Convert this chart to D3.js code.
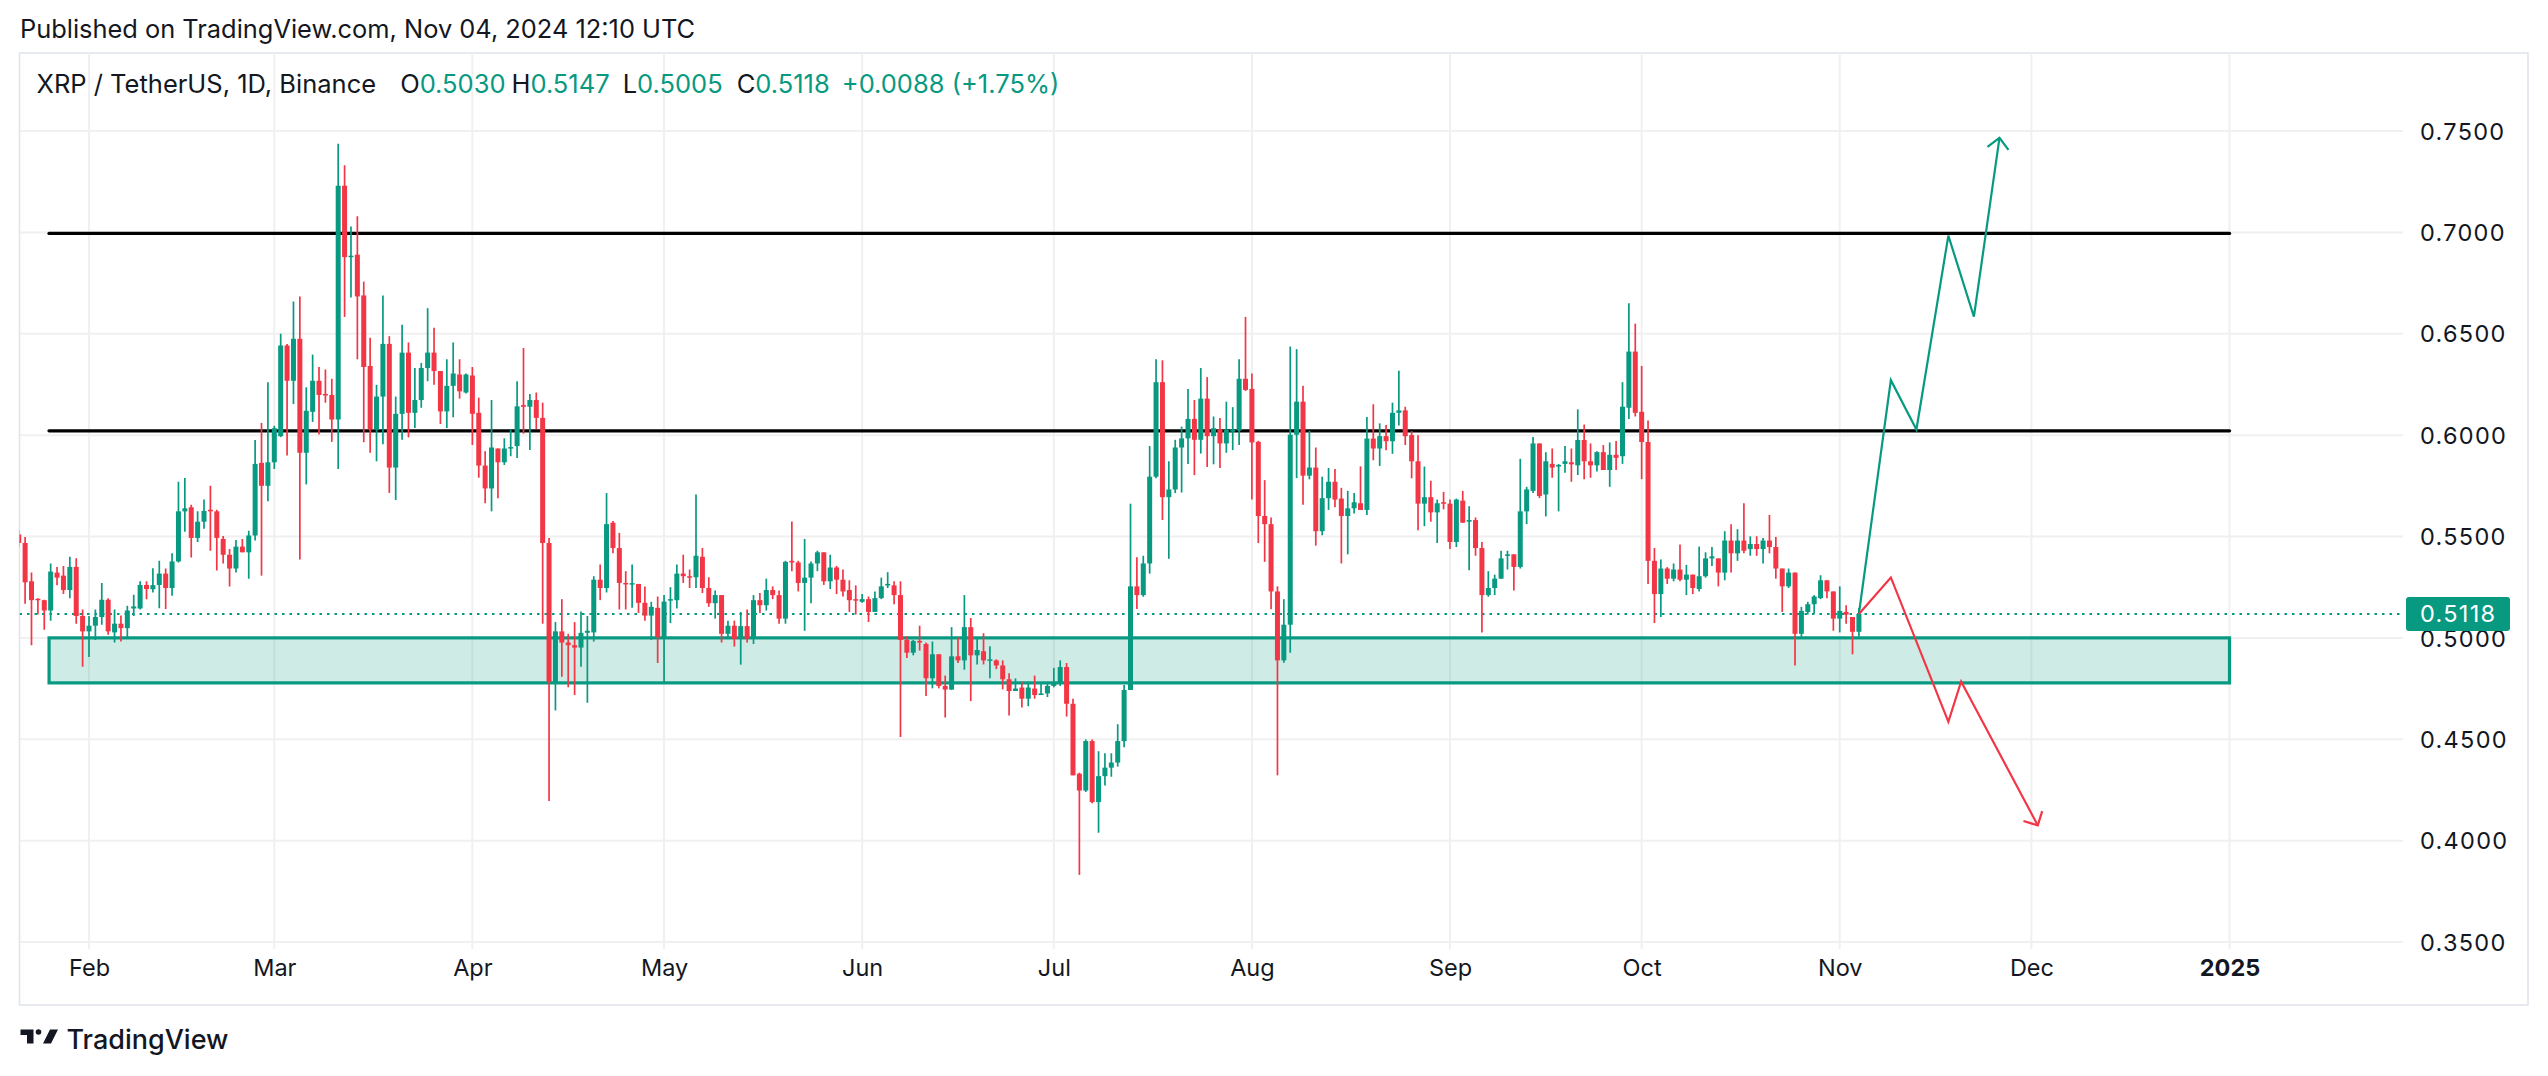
<!DOCTYPE html>
<html><head><meta charset="utf-8">
<script src="https://cdn.jsdelivr.net/npm/d3@7"></script>
<style>
html,body{margin:0;padding:0;background:#fff;}
svg{display:block;}
text{font-family:Inter, Roboto, "Noto Sans", sans-serif;}
</style></head><body>
<svg id="chart" width="2548" height="1076"></svg>
<script>
// ---------------- DATA ----------------
const firstDay = "2024-01-21";
const open = [
0.5510,0.5468,0.5279,0.5193,0.5186,0.5135,0.5322,0.5307,0.5236,0.5350,0.5108,
0.5032,0.5060,0.5103,0.5188,0.5027,0.5070,0.5048,0.5145,0.5145,0.5261,0.5240,0.5261,0.5317,0.5246,0.5377,0.5624,0.5644,0.5493,0.5573,0.5632,0.5624,0.5488,0.5410,0.5342,0.5450,0.5422,0.5505,0.5863,0.5750,
0.5866,0.5995,0.6442,0.6268,0.6475,0.5913,0.6115,0.6268,0.6203,0.6198,0.6077,0.7230,0.6878,0.6890,0.6689,0.6341,0.6027,0.6190,0.6450,0.5840,0.6105,0.6407,0.6110,0.6173,0.6331,0.6407,0.6316,0.6117,0.6243,0.6299,0.6210,
0.6294,0.6110,0.5850,0.5737,0.5934,0.5866,0.5934,0.5946,0.6148,0.6140,0.6173,0.6085,0.5468,0.4783,0.5032,0.4977,0.4964,0.4952,0.5025,0.5027,0.5287,0.5246,0.5568,0.5443,0.5271,0.5266,0.5266,0.5173,0.5110,0.5148,
0.5003,0.5186,0.5186,0.5317,0.5304,0.5299,0.5400,0.5246,0.5171,0.5211,0.5020,0.5060,0.4995,0.5058,0.4995,0.5186,0.5161,0.5236,0.5211,0.5095,0.5380,0.5372,0.5271,0.5297,0.5367,0.5422,0.5279,0.5347,0.5287,0.5236,0.5191,
0.5178,0.5191,0.5128,0.5196,0.5259,0.5259,0.5211,0.4990,0.4927,0.4985,0.4970,0.4801,0.4919,0.4763,0.4745,0.4909,0.4889,0.5053,0.4914,0.4934,0.4889,0.4889,0.4864,0.4796,0.4738,0.4755,0.4700,0.4750,0.4718,0.4726,
0.4763,0.4780,0.4856,0.4675,0.4330,0.4247,0.4491,0.4190,0.4318,0.4360,0.4385,0.4491,0.4743,0.5254,0.5211,0.5367,0.5795,0.6261,0.5694,0.5732,0.5939,0.5984,0.6080,0.5977,0.6180,0.5995,0.6029,0.5959,0.6017,0.6022,0.6278,
0.6228,0.5967,0.5601,0.5561,0.5229,0.4889,0.5065,0.6002,0.6165,0.5800,0.5840,0.5526,0.5689,0.5770,0.5687,0.5601,0.5639,0.5664,0.5631,0.5983,0.5934,0.5995,0.5970,0.6110,0.6122,0.6000,0.5871,0.5662,0.5694,0.5619,0.5669,
0.5662,0.5473,0.5677,0.5573,0.5581,0.5443,0.5211,0.5246,0.5292,0.5405,0.5412,0.5350,0.5624,0.5725,0.5959,0.5707,0.5858,0.5845,0.5858,0.5866,0.5851,0.5976,0.5871,0.5851,0.5916,0.5828,0.5903,0.5896,0.6135,0.6412,
0.6115,0.5966,0.5380,0.5216,0.5342,0.5292,0.5337,0.5287,0.5312,0.5241,0.5304,0.5392,0.5392,0.5322,0.5480,0.5417,0.5480,0.5438,0.5463,0.5438,0.5480,0.5448,0.5342,0.5254,0.5322,0.5020,0.5128,0.5166,0.5196,0.5284,0.5229,
0.5095,0.5128,0.5103,0.5030];
const high = [
0.5531,0.5498,0.5322,0.5196,0.5188,0.5367,0.5350,0.5355,0.5400,0.5393,0.5140,
0.5108,0.5140,0.5271,0.5196,0.5140,0.5110,0.5158,0.5213,0.5279,0.5279,0.5344,0.5380,0.5342,0.5417,0.5770,0.5788,0.5657,0.5624,0.5682,0.5750,0.5632,0.5503,0.5438,0.5483,0.5488,0.5528,0.5976,0.6060,0.6261,
0.6046,0.6500,0.6450,0.6659,0.6684,0.6236,0.6397,0.6336,0.6324,0.6278,0.7437,0.7331,0.7029,0.7079,0.6757,0.6480,0.6248,0.6689,0.6488,0.6190,0.6545,0.6457,0.6331,0.6356,0.6626,0.6530,0.6316,0.6374,0.6457,0.6374,0.6304,
0.6336,0.6185,0.5921,0.6173,0.5934,0.5984,0.6027,0.6266,0.6430,0.6203,0.6210,0.6160,0.5493,0.5078,0.5191,0.5020,0.5078,0.5130,0.5108,0.5304,0.5362,0.5714,0.5576,0.5518,0.5329,0.5362,0.5266,0.5254,0.5178,0.5204,
0.5211,0.5250,0.5362,0.5410,0.5337,0.5707,0.5443,0.5299,0.5234,0.5211,0.5085,0.5085,0.5128,0.5140,0.5211,0.5221,0.5292,0.5254,0.5234,0.5380,0.5574,0.5380,0.5488,0.5377,0.5430,0.5422,0.5410,0.5355,0.5337,0.5284,0.5259,
0.5216,0.5204,0.5229,0.5297,0.5324,0.5279,0.5279,0.5008,0.4990,0.5060,0.4977,0.4982,0.4919,0.4814,0.5053,0.5003,0.5211,0.5098,0.4998,0.5023,0.4959,0.4894,0.4889,0.4826,0.4800,0.4783,0.4776,0.4814,0.4776,0.4776,
0.4852,0.4889,0.4876,0.4700,0.4335,0.4499,0.4499,0.4441,0.4431,0.4431,0.4574,0.4768,0.5662,0.5398,0.5405,0.5946,0.6374,0.6369,0.5871,0.5977,0.6042,0.6228,0.6173,0.6331,0.6286,0.6092,0.6085,0.6165,0.6138,0.6374,0.6583,
0.6304,0.5972,0.5778,0.5594,0.5254,0.5191,0.6437,0.6424,0.6243,0.6022,0.5939,0.5795,0.5838,0.5833,0.5740,0.5725,0.5715,0.5846,0.6089,0.6152,0.6058,0.6050,0.6160,0.6318,0.6140,0.6020,0.6000,0.5845,0.5775,0.5682,0.5720,
0.5682,0.5687,0.5725,0.5649,0.5594,0.5473,0.5329,0.5312,0.5430,0.5430,0.5412,0.5883,0.5745,0.5991,0.5959,0.5916,0.5934,0.5858,0.5946,0.5934,0.6127,0.6052,0.5959,0.5921,0.5951,0.5964,0.5971,0.6261,0.6651,0.6550,
0.6341,0.6072,0.5443,0.5387,0.5349,0.5367,0.5460,0.5360,0.5312,0.5450,0.5422,0.5448,0.5392,0.5526,0.5561,0.5536,0.5664,0.5501,0.5501,0.5493,0.5606,0.5498,0.5342,0.5342,0.5322,0.5153,0.5178,0.5211,0.5309,0.5284,0.5229,
0.5254,0.5161,0.5103,0.5147];
const low = [
0.5450,0.5168,0.4964,0.5115,0.5040,0.5085,0.5260,0.5216,0.5196,0.5070,0.4858,
0.4906,0.4990,0.5065,0.5015,0.4977,0.4982,0.5003,0.5108,0.5140,0.5191,0.5224,0.5146,0.5143,0.5208,0.5372,0.5523,0.5397,0.5473,0.5538,0.5430,0.5332,0.5367,0.5254,0.5322,0.5422,0.5292,0.5480,0.5307,0.5674,
0.5833,0.5990,0.5900,0.6153,0.5387,0.5757,0.6065,0.6003,0.6160,0.5967,0.5833,0.6583,0.6679,0.6374,0.5965,0.5913,0.5871,0.5955,0.5715,0.5680,0.5977,0.5989,0.6035,0.6135,0.6266,0.6248,0.6055,0.6035,0.6088,0.6180,0.6205,
0.5951,0.5790,0.5664,0.5624,0.5689,0.5853,0.5896,0.5887,0.6007,0.5927,0.6030,0.5070,0.4196,0.4642,0.4808,0.4756,0.4718,0.4858,0.4680,0.4982,0.5186,0.5224,0.5417,0.5140,0.5140,0.5148,0.5123,0.5085,0.4990,0.4876,
0.4780,0.5073,0.5145,0.5271,0.5246,0.5246,0.5221,0.5153,0.5095,0.4977,0.4995,0.4957,0.4868,0.4977,0.4970,0.5123,0.5135,0.5191,0.5070,0.5070,0.5329,0.5229,0.5035,0.5171,0.5329,0.5261,0.5241,0.5216,0.5204,0.5128,0.5115,
0.5173,0.5078,0.5128,0.5191,0.5246,0.5166,0.4511,0.4901,0.4914,0.4937,0.4713,0.4751,0.4751,0.4607,0.4743,0.4876,0.4843,0.4688,0.4869,0.4869,0.4801,0.4846,0.4746,0.4617,0.4738,0.4657,0.4663,0.4700,0.4718,0.4708,
0.4756,0.4763,0.4612,0.4322,0.3831,0.4240,0.4184,0.4039,0.4272,0.4315,0.4365,0.4460,0.4743,0.5143,0.5203,0.5317,0.5787,0.5581,0.5390,0.5714,0.5717,0.5858,0.5803,0.5909,0.5843,0.5856,0.5838,0.5913,0.5926,0.5951,0.6218,
0.5682,0.5468,0.5375,0.5141,0.4322,0.4877,0.4927,0.5788,0.5657,0.5782,0.5455,0.5506,0.5631,0.5644,0.5367,0.5412,0.5614,0.5631,0.5606,0.5876,0.5848,0.5926,0.5908,0.6047,0.5951,0.5787,0.5531,0.5551,0.5573,0.5468,0.5634,
0.5438,0.5448,0.5568,0.5334,0.5405,0.5027,0.5203,0.5211,0.5292,0.5337,0.5234,0.5342,0.5561,0.5715,0.5690,0.5599,0.5790,0.5624,0.5815,0.5770,0.5803,0.5782,0.5790,0.5820,0.5828,0.5745,0.5828,0.5858,0.6080,0.6092,
0.5783,0.5266,0.5073,0.5103,0.5266,0.5279,0.5279,0.5211,0.5216,0.5229,0.5297,0.5354,0.5254,0.5284,0.5322,0.5380,0.5417,0.5405,0.5405,0.5367,0.5417,0.5292,0.5128,0.5246,0.4864,0.4995,0.5115,0.5120,0.5191,0.5196,0.5035,
0.5027,0.5070,0.4919,0.5005];
const close = [
0.5468,0.5274,0.5186,0.5188,0.5135,0.5327,0.5297,0.5236,0.5350,0.5108,0.5032,
0.5060,0.5103,0.5188,0.5032,0.5070,0.5048,0.5135,0.5155,0.5261,0.5241,0.5260,0.5317,0.5246,0.5377,0.5624,0.5639,0.5493,0.5573,0.5626,0.5624,0.5493,0.5410,0.5342,0.5450,0.5422,0.5505,0.5858,0.5750,0.5866,
0.6034,0.6442,0.6268,0.6475,0.5913,0.6120,0.6268,0.6198,0.6198,0.6077,0.7230,0.6878,0.6885,0.6684,0.6336,0.6027,0.6190,0.6450,0.5840,0.6105,0.6407,0.6110,0.6173,0.6331,0.6407,0.6316,0.6117,0.6243,0.6304,0.6216,0.6299,
0.6105,0.5850,0.5737,0.5939,0.5866,0.5934,0.5941,0.6142,0.6140,0.6173,0.6085,0.5468,0.4783,0.5032,0.4977,0.4964,0.4952,0.5025,0.5035,0.5287,0.5246,0.5561,0.5443,0.5271,0.5266,0.5270,0.5173,0.5110,0.5153,0.5003,
0.5179,0.5191,0.5317,0.5304,0.5299,0.5405,0.5246,0.5171,0.5211,0.5020,0.5060,0.4995,0.5058,0.4995,0.5186,0.5161,0.5236,0.5211,0.5095,0.5375,0.5372,0.5271,0.5297,0.5367,0.5422,0.5279,0.5347,0.5287,0.5229,0.5186,0.5186,
0.5191,0.5128,0.5196,0.5254,0.5266,0.5211,0.4990,0.4927,0.4985,0.4977,0.4801,0.4919,0.4763,0.4745,0.4909,0.4889,0.5053,0.4914,0.4940,0.4889,0.4894,0.4864,0.4796,0.4738,0.4750,0.4700,0.4755,0.4718,0.4726,0.4763,
0.4780,0.4856,0.4675,0.4322,0.4247,0.4491,0.4190,0.4318,0.4360,0.4385,0.4491,0.4743,0.5254,0.5211,0.5367,0.5795,0.6261,0.5694,0.5732,0.5939,0.5984,0.6080,0.5977,0.6180,0.5995,0.6034,0.5959,0.6027,0.6027,0.6278,0.6223,
0.5964,0.5601,0.5561,0.5229,0.4889,0.5065,0.6002,0.6165,0.5800,0.5840,0.5526,0.5689,0.5770,0.5682,0.5601,0.5639,0.5669,0.5631,0.5983,0.5934,0.5995,0.5970,0.6110,0.6122,0.5995,0.5871,0.5662,0.5694,0.5619,0.5664,0.5662,
0.5473,0.5682,0.5568,0.5581,0.5443,0.5211,0.5246,0.5292,0.5392,0.5412,0.5350,0.5624,0.5732,0.5959,0.5700,0.5871,0.5840,0.5853,0.5871,0.5856,0.5976,0.5871,0.5851,0.5916,0.5828,0.5903,0.5888,0.6140,0.6412,0.6110,
0.5966,0.5380,0.5216,0.5342,0.5292,0.5337,0.5287,0.5312,0.5246,0.5304,0.5392,0.5402,0.5322,0.5480,0.5417,0.5480,0.5430,0.5463,0.5438,0.5480,0.5448,0.5342,0.5254,0.5322,0.5020,0.5133,0.5166,0.5204,0.5284,0.5229,0.5095,
0.5133,0.5115,0.5030,0.5118];

const priceTicks = [0.35,0.40,0.45,0.50,0.55,0.60,0.65,0.70,0.75];
const monthTicks = ["2024-02-01","2024-03-01","2024-04-01","2024-05-01","2024-06-01","2024-07-01","2024-08-01","2024-09-01","2024-10-01","2024-11-01","2024-12-01","2025-01-01"];
const monthLabels = ["Feb","Mar","Apr","May","Jun","Jul","Aug","Sep","Oct","Nov","Dec","2025"];

const levelPrices = [0.6995, 0.6021];
const levelStart = "2024-01-25T18:00:00Z";
const levelEnd = "2025-01-01";
const zoneTop = 0.5000, zoneBottom = 0.4778;

const bullDates = ["2024-11-04","2024-11-09","2024-11-13","2024-11-18","2024-11-22","2024-11-26"];
const bullPrices = [0.5118,0.6271,0.6028,0.6984,0.6584,0.7466];
const bearDates = ["2024-11-04","2024-11-09","2024-11-18","2024-11-20","2024-12-02"];
const bearPrices = [0.5118,0.5298,0.4586,0.4785,0.4075];

const headerText = "Published on TradingView.com, Nov 04, 2024 12:10 UTC";
const symbolText = "XRP / TetherUS, 1D, Binance";
const legendKeys = ["O","H","L","C"];
const legendVals = ["0.5030","0.5147","0.5005","0.5118"];
const legendChange = "+0.0088 (+1.75%)";
const lastPrice = 0.5118;

// ---------------- LAYOUT ----------------
const UP = "#089981", DOWN = "#F23645", INK = "#131722";
const P = {left:19.5, right:2403, top:53, bottom:949};
const svg = d3.select("#chart");

const x = d3.scaleUtc().domain([new Date("2024-02-01"), new Date("2025-01-01")]).range([89, 2229.5]);
const y = d3.scaleLinear().domain([0.35, 0.75]).range([942, 131]);

const start = new Date(firstDay + "T00:00:00Z");
const days = d3.utcDay.range(start, d3.utcDay.offset(start, open.length));
const candles = days.map((d,i)=>({d, o:open[i], h:high[i], l:low[i], c:close[i]}));

// frame
svg.append("rect").attr("x",P.left).attr("y",P.top).attr("width",2528-P.left).attr("height",1005-P.top)
  .attr("fill","none").attr("stroke","#e0e3eb").attr("stroke-width",1.5);

// clip
svg.append("defs").append("clipPath").attr("id","plot").append("rect")
  .attr("x",P.left).attr("y",P.top).attr("width",P.right-P.left).attr("height",P.bottom-P.top);

// grid
const grid = svg.append("g").attr("clip-path","url(#plot)");
grid.selectAll("line.h").data(priceTicks).join("line")
  .attr("x1",P.left).attr("x2",P.right).attr("y1",d=>y(d)).attr("y2",d=>y(d))
  .attr("stroke","#f0f0f0").attr("stroke-width",2);
grid.selectAll("line.v").data(monthTicks).join("line")
  .attr("x1",d=>x(new Date(d))).attr("x2",d=>x(new Date(d))).attr("y1",P.top).attr("y2",P.bottom)
  .attr("stroke","#f0f0f0").attr("stroke-width",2);

const plot = svg.append("g").attr("clip-path","url(#plot)");

// zone
plot.append("rect")
  .attr("x", x(new Date(levelStart))).attr("y", y(zoneTop))
  .attr("width", x(new Date(levelEnd)) - x(new Date(levelStart)))
  .attr("height", y(zoneBottom) - y(zoneTop))
  .attr("fill","rgba(8,153,129,0.2)").attr("stroke",UP).attr("stroke-width",3.2);

// level lines
plot.selectAll("line.lvl").data(levelPrices).join("line")
  .attr("x1", x(new Date(levelStart))).attr("x2", x(new Date(levelEnd)))
  .attr("y1", d=>y(d)).attr("y2", d=>y(d))
  .attr("stroke","#000").attr("stroke-width",3.4).attr("stroke-linecap","round");

// last price dotted line
plot.append("line").attr("x1",P.left).attr("x2",P.right).attr("y1",y(lastPrice)).attr("y2",y(lastPrice))
  .attr("stroke",UP).attr("stroke-width",2).attr("stroke-dasharray","2.5,5");

// candles
const bw = 5;
const cg = plot.append("g");
cg.selectAll("line.w").data(candles).join("line")
  .attr("x1",d=>x(d.d)).attr("x2",d=>x(d.d)).attr("y1",d=>y(d.h)).attr("y2",d=>y(d.l))
  .attr("stroke",d=>d.c>=d.o?UP:DOWN).attr("stroke-width",1.7);
cg.selectAll("rect.b").data(candles).join("rect")
  .attr("x",d=>x(d.d)-bw/2).attr("width",bw)
  .attr("y",d=>y(Math.max(d.o,d.c)))
  .attr("height",d=>Math.max(1.5, Math.abs(y(d.o)-y(d.c))))
  .attr("fill",d=>d.c>=d.o?UP:DOWN);

// projection paths
function drawPath(dates, prices, color){
  const pts = dates.map((d,i)=>[x(new Date(d)), y(prices[i])]);
  plot.append("path").attr("d", d3.line()(pts)).attr("fill","none")
    .attr("stroke",color).attr("stroke-width",2.2).attr("stroke-linejoin","miter");
  const [a,b] = pts.slice(-2);
  const ang = Math.atan2(a[1]-b[1], a[0]-b[0]);
  const L = 15, s = Math.PI/4;
  const w1 = [b[0]+L*Math.cos(ang+s), b[1]+L*Math.sin(ang+s)];
  const w2 = [b[0]+L*Math.cos(ang-s), b[1]+L*Math.sin(ang-s)];
  plot.append("path").attr("d", d3.line()([w1,b,w2])).attr("fill","none")
    .attr("stroke",color).attr("stroke-width",2.2);
}
drawPath(bullDates, bullPrices, UP);
drawPath(bearDates, bearPrices, DOWN);

// y axis
const yAxis = d3.axisRight(y).tickValues(priceTicks).tickFormat(d3.format(".4f")).tickSize(0).tickPadding(17);
const ya = svg.append("g").attr("transform",`translate(${P.right},0)`).call(yAxis);
ya.select(".domain").remove();
ya.selectAll("text").attr("font-family","Inter, Roboto, sans-serif").attr("font-size",23.5)
  .attr("fill",INK).attr("letter-spacing","1.3px").attr("dy","0.35em");

// price tag
const tag = svg.append("g").attr("transform",`translate(0,${y(lastPrice)})`);
tag.append("rect").attr("x",2406).attr("y",-17).attr("width",104).attr("height",34).attr("rx",3).attr("fill",UP);
tag.append("text").attr("x",P.right+17).attr("dy","0.35em").attr("font-size",23.5).attr("letter-spacing","1.3px")
  .attr("fill","#fff").text(d3.format(".4f")(lastPrice));

// x axis
const xAxis = d3.axisBottom(x).tickValues(monthTicks.map(d=>new Date(d)))
  .tickFormat((d,i)=>monthLabels[i]).tickSize(0).tickPadding(0);
const xa = svg.append("g").attr("transform",`translate(0,${P.bottom})`).call(xAxis);
xa.select(".domain").remove();
xa.selectAll("text").attr("font-family","Inter, Roboto, sans-serif").attr("font-size",23.5)
  .attr("fill",INK).attr("dy","1.15em")
  .attr("font-weight",(d,i)=>monthLabels[i]==="2025"?700:400);

// header
svg.append("text").attr("x",20).attr("y",38).attr("font-size",25.4).attr("fill",INK).text(headerText);

const lg = svg.append("text").attr("x",36.5).attr("y",93).attr("font-size",25.5).attr("fill",INK);
lg.append("tspan").text(symbolText);
const gaps = [24,6,13,14];
legendKeys.forEach((k,i)=>{
  lg.append("tspan").attr("dx", gaps[i]).attr("fill",INK).text(k);
  lg.append("tspan").attr("fill",UP).text(legendVals[i]);
});
lg.append("tspan").attr("dx",12).attr("fill",UP).text(legendChange);

// logo
const logo = svg.append("g").attr("fill",INK);
logo.append("path").attr("d","M20.5,1029.5 H33.5 V1043.5 H27 V1035 H20.5 Z");
logo.append("circle").attr("cx",38.5).attr("cy",1032).attr("r",2.8);
logo.append("path").attr("d","M43,1043.5 L50,1029.5 H58 L51,1043.5 Z");
svg.append("text").attr("x",66.5).attr("y",1049).attr("font-size",27).attr("font-weight",500)
  .attr("fill",INK).text("TradingView");
</script>
</body></html>
